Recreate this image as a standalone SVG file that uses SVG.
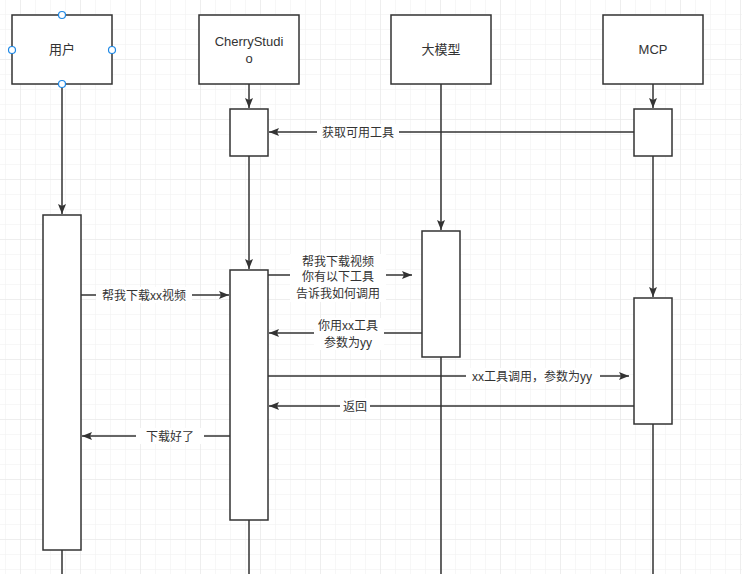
<svg xmlns="http://www.w3.org/2000/svg" width="742" height="574" viewBox="0 0 742 574">
<defs>
<pattern id="gm" width="15" height="15" patternUnits="userSpaceOnUse" x="5" y="-1"><path d="M0 0H15M0 0V15" stroke="#f0f0f0" stroke-width="1" fill="none"/></pattern>
<pattern id="gM" width="60" height="60" patternUnits="userSpaceOnUse" x="20" y="-1"><path d="M0 0H60M0 0V60" stroke="#e6e6e6" stroke-width="1" fill="none"/></pattern>
<marker id="a" viewBox="0 0 10 10" refX="10" refY="5" markerWidth="10" markerHeight="10" markerUnits="userSpaceOnUse" orient="auto"><path d="M0 1L10 5L0 9L2 5Z" fill="#333"/></marker>
</defs>
<style>
.b{fill:#fff;stroke:#333;stroke-width:1.5}
.l{stroke:#333;stroke-width:1.5;fill:none}
.c{stroke:#333;stroke-width:1.5;fill:none;marker-end:url(#a)}
text{font-family:"Liberation Sans","Noto Sans CJK SC",sans-serif;font-size:12px;fill:#333;text-anchor:middle}
.t{font-size:13px}
.bg{fill:#fff}
</style>
<rect width="742" height="574" fill="#fff"/>
<rect width="742" height="574" fill="url(#gm)"/>
<rect width="742" height="574" fill="url(#gM)"/>
<g id="connectors">
<path class="c" d="M62 84V214"/>
<path class="c" d="M249 84V108"/>
<path class="c" d="M441 84V230"/>
<path class="c" d="M653 84V108"/>
<path class="c" d="M249 156V269"/>
<path class="c" d="M653 156V297"/>
<path class="l" d="M62 550V574M249 520V574M441 357V574M653 424V574"/>
<path class="c" d="M634 132H269"/>
<rect class="bg" x="317" y="124" width="82" height="16"/><text x="358" y="137">获取可用工具</text>
<path class="c" d="M81 295H229"/>
<rect class="bg" x="96" y="287" width="96" height="16"/><text x="144" y="300">帮我下载xx视频</text>
<path class="c" d="M268 275H412"/>
<rect class="bg" x="290" y="254" width="96" height="48"/><text x="338" y="266">帮我下载视频</text><text x="338" y="281">你有以下工具</text><text x="338" y="298">告诉我如何调用</text>
<path class="c" d="M422 333H269"/>
<rect class="bg" x="314" y="318" width="70" height="32"/><text x="348" y="330">你用xx工具</text><text x="348" y="347">参数为yy</text>
<path class="c" d="M268 376H629"/>
<rect class="bg" x="466" y="368" width="134" height="16"/><text x="532" y="381">xx工具调用，参数为yy</text>
<path class="c" d="M634 406H269"/>
<rect class="bg" x="340" y="398" width="30" height="16"/><text x="355" y="411">返回</text>
<path class="c" d="M230 436H82"/>
<rect class="bg" x="136" y="428" width="68" height="16"/><text x="170" y="441">下载好了</text>
</g>
<g id="user"><rect class="b" x="12" y="15" width="100" height="69"/><text class="t" x="62" y="54">用户</text>
<g fill="#fff" stroke="#1e88e5" stroke-width="1.2"><circle cx="62" cy="15" r="3.5"/><circle cx="12" cy="50" r="3.5"/><circle cx="112" cy="50" r="3.5"/><circle cx="62" cy="84" r="3.5"/></g></g>
<g id="cherry"><rect class="b" x="199" y="15" width="100" height="69"/><text class="t" x="249" y="46">CherryStudi</text><text class="t" x="249" y="63">o</text></g>
<g id="llm"><rect class="b" x="391" y="15" width="100" height="69"/><text class="t" x="441" y="54">大模型</text></g>
<g id="mcp"><rect class="b" x="603" y="15" width="100" height="69"/><text class="t" x="653" y="54">MCP</text></g>
<g id="cherry-act1"><rect class="b" x="230" y="109" width="38" height="47"/></g>
<g id="mcp-act1"><rect class="b" x="634" y="109" width="38" height="47"/></g>
<g id="user-act"><rect class="b" x="43" y="215" width="38" height="335"/></g>
<g id="cherry-act2"><rect class="b" x="230" y="270" width="38" height="250"/></g>
<g id="llm-act"><rect class="b" x="422" y="231" width="38" height="126"/></g>
<g id="mcp-act2"><rect class="b" x="634" y="298" width="38" height="126"/></g>
</svg>
